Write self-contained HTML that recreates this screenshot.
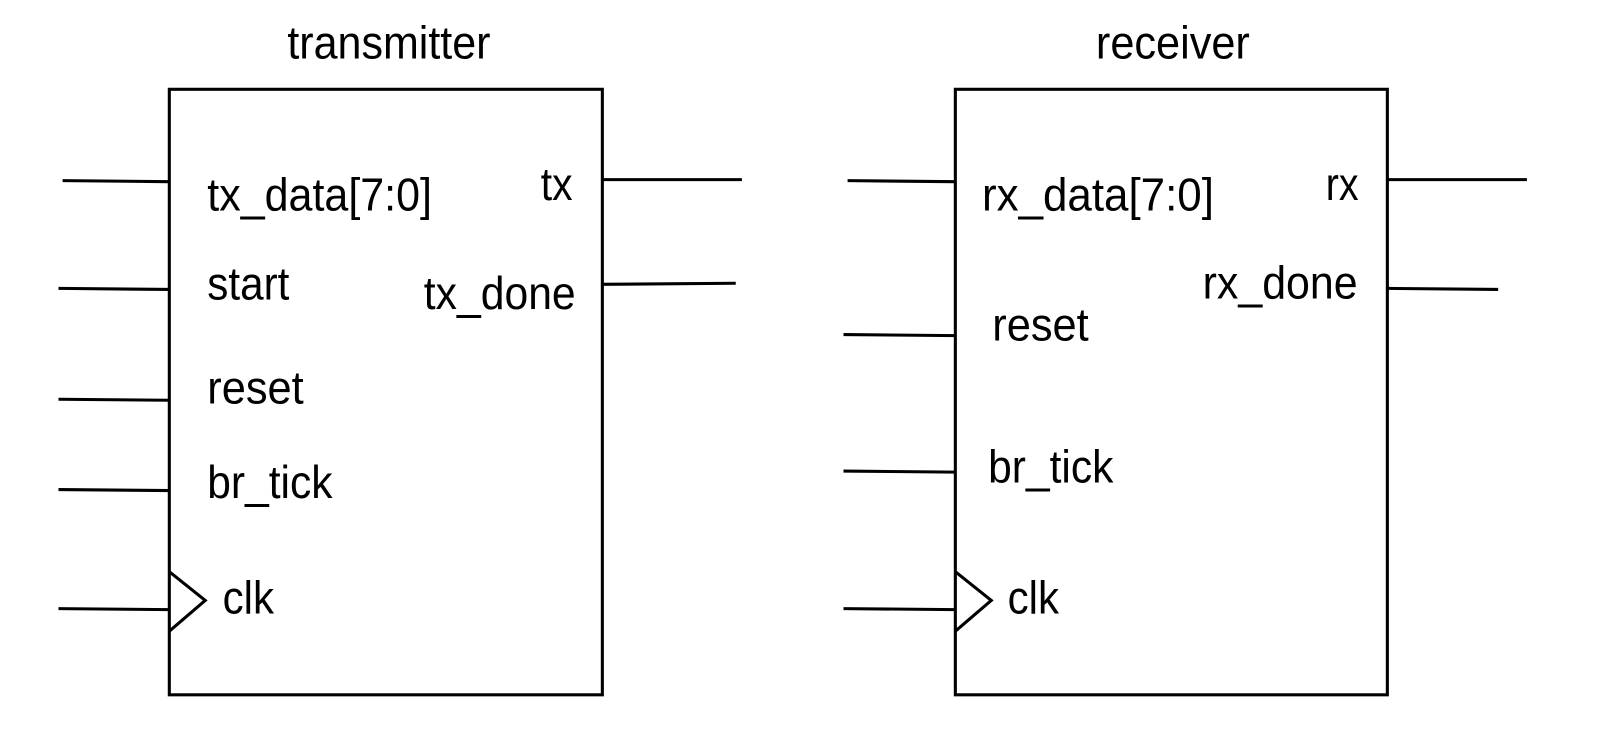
<!DOCTYPE html>
<html><head><meta charset="utf-8"><style>
html,body{margin:0;padding:0;background:#fff;}
svg{display:block;}
text{font-family:"Liberation Sans",Arial,sans-serif;font-size:45px;fill:#000;}
</style></head><body>
<svg width="1609" height="741" viewBox="0 0 1568 722" preserveAspectRatio="none" xmlns="http://www.w3.org/2000/svg">
<g stroke="#000" stroke-width="3" fill="none">
<rect x="165" y="87" width="422" height="590"/>
<line x1="61" y1="176" x2="165" y2="177"/>
<line x1="57" y1="281" x2="165" y2="282"/>
<line x1="57" y1="389" x2="165" y2="390"/>
<line x1="57" y1="477" x2="165" y2="478"/>
<line x1="57" y1="593" x2="165" y2="594"/>
<polyline points="165,557 200,585 165,615"/>
<line x1="587" y1="175" x2="723" y2="175"/>
<line x1="587" y1="277" x2="717" y2="276"/>

<rect x="931" y="87" width="421" height="590"/>
<line x1="826" y1="176" x2="931" y2="177"/>
<line x1="822" y1="326" x2="931" y2="327"/>
<line x1="822" y1="459" x2="931" y2="460"/>
<line x1="822" y1="593" x2="931" y2="594"/>
<polyline points="931,557 966,585 931,615"/>
<line x1="1352" y1="175" x2="1488" y2="175"/>
<line x1="1352" y1="281" x2="1460" y2="282"/>
</g>
<g>
<text x="280" y="57" textLength="198" lengthAdjust="spacingAndGlyphs">transmitter</text>
<text x="202" y="205" textLength="219" lengthAdjust="spacingAndGlyphs">tx_data[7:0]</text>
<text x="202" y="292" textLength="80" lengthAdjust="spacingAndGlyphs">start</text>
<text x="202" y="393" textLength="94" lengthAdjust="spacingAndGlyphs">reset</text>
<text x="202" y="485" textLength="122" lengthAdjust="spacingAndGlyphs">br_tick</text>
<text x="217" y="598" textLength="50" lengthAdjust="spacingAndGlyphs">clk</text>
<text x="527" y="195" textLength="31" lengthAdjust="spacingAndGlyphs">tx</text>
<text x="413" y="301" textLength="148" lengthAdjust="spacingAndGlyphs">tx_done</text>

<text x="1068" y="57" textLength="150" lengthAdjust="spacingAndGlyphs">receiver</text>
<text x="957" y="205" textLength="226" lengthAdjust="spacingAndGlyphs">rx_data[7:0]</text>
<text x="967" y="332" textLength="94" lengthAdjust="spacingAndGlyphs">reset</text>
<text x="963" y="470" textLength="122" lengthAdjust="spacingAndGlyphs">br_tick</text>
<text x="982" y="598" textLength="50" lengthAdjust="spacingAndGlyphs">clk</text>
<text x="1292" y="195" textLength="32" lengthAdjust="spacingAndGlyphs">rx</text>
<text x="1172" y="291" textLength="151" lengthAdjust="spacingAndGlyphs">rx_done</text>
</g>
</svg>
</body></html>
